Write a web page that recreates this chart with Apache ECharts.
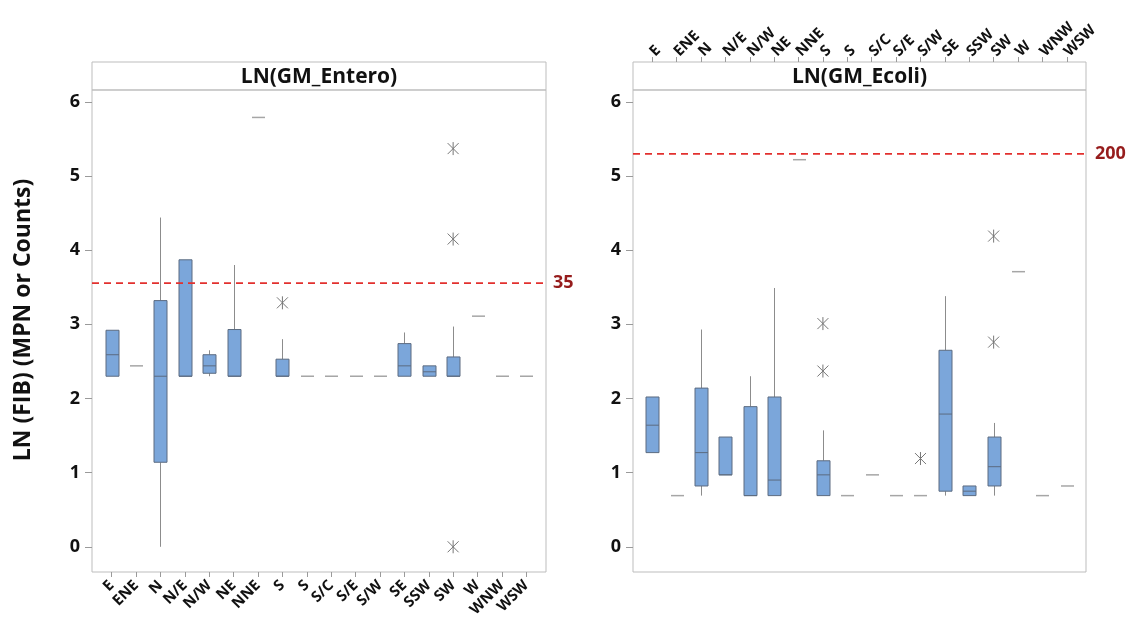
<!DOCTYPE html>
<html>
<head>
<meta charset="utf-8">
<script src="https://cdn.jsdelivr.net/npm/echarts@6/dist/echarts.min.js"></script>
<style>
html,body{margin:0;padding:0;background:#fff;}
#chart{width:1129px;height:632px;}
</style>
</head>
<body>
<div id="chart"></div>
<script>
// ---------------- DATA ----------------
const categories = ['E','ENE','N','N/E','N/W','NE','NNE','S','S','S/C','S/E','S/W','SE','SSW','SW','W','WNW','WSW'];
const yTicks = [0,1,2,3,4,5,6];

// LN(GM_Entero) box statistics per category
const enteroMin = [2.30,2.44,0.00,2.30,2.30,2.30,5.79,2.30,2.30,2.30,2.30,2.30,2.30,2.30,2.30,3.11,2.30,2.30];
const enteroQ1  = [2.30,2.44,1.14,2.30,2.34,2.30,5.79,2.30,2.30,2.30,2.30,2.30,2.30,2.30,2.30,3.11,2.30,2.30];
const enteroMed = [2.59,2.44,2.30,2.30,2.44,2.30,5.79,2.30,2.30,2.30,2.30,2.30,2.44,2.36,2.30,3.11,2.30,2.30];
const enteroQ3  = [2.92,2.44,3.32,3.87,2.59,2.93,5.79,2.53,2.30,2.30,2.30,2.30,2.74,2.44,2.56,3.11,2.30,2.30];
const enteroMax = [2.92,2.44,4.44,3.87,2.65,3.80,5.79,2.80,2.30,2.30,2.30,2.30,2.89,2.44,2.97,3.11,2.30,2.30];
const enteroOutCat = [7,14,14,14];
const enteroOutVal = [3.29,5.37,4.15,0.00];

// LN(GM_Ecoli) box statistics per category
const ecoliMin = [1.27,0.69,0.69,0.97,0.69,0.69,5.22,0.69,0.69,0.97,0.69,0.69,0.69,0.69,0.69,3.71,0.69,0.82];
const ecoliQ1  = [1.27,0.69,0.82,0.97,0.69,0.69,5.22,0.69,0.69,0.97,0.69,0.69,0.75,0.69,0.82,3.71,0.69,0.82];
const ecoliMed = [1.64,0.69,1.27,0.97,0.69,0.90,5.22,0.97,0.69,0.97,0.69,0.69,1.79,0.75,1.08,3.71,0.69,0.82];
const ecoliQ3  = [2.02,0.69,2.14,1.48,1.89,2.02,5.22,1.16,0.69,0.97,0.69,0.69,2.65,0.82,1.48,3.71,0.69,0.82];
const ecoliMax = [2.02,0.69,2.93,1.48,2.30,3.49,5.22,1.57,0.69,0.97,0.69,0.69,3.38,0.82,1.67,3.71,0.69,0.82];
const ecoliOutCat = [7,7,11,14,14];
const ecoliOutVal = [3.01,2.37,1.19,2.76,4.19];

// reference limits (LN of 35 and 200)
const refValues = [3.555, 5.298];
const refLabels = ['35', '200'];
const panelTitles = ['LN(GM_Entero)', 'LN(GM_Ecoli)'];
const yAxisTitle = 'LN (FIB) (MPN or Counts)';

// ---------------- STYLE / LAYOUT ----------------
const FONT = '"Open Sans", Lato, "DejaVu Sans", sans-serif';
const FRAME = '#bdbdbd';
const BOX_FILL = '#7ba6da';
const BOX_EDGE = '#5c6b80';
const WHISK = '#8c8c8c';
const FLAT = '#a6a6a6';
const STAR = '#777777';
const Y_MIN = -0.34, Y_MAX = 6.16;
const STRIP_TOP = 62, STRIP_H = 28, PLOT_TOP = 90, PLOT_H = 482;
const panels = [
  {frameLeft: 92, frameWidth: 454, inset: 7.5, refDist: 7},
  {frameLeft: 633, frameWidth: 453, inset: 7, refDist: 9}
];

function boxItems(mn, q1, md, q3, mx) {
  return categories.map((c, i) => [i, mn[i], q1[i], md[i], q3[i], mx[i]]);
}
function outItems(cat, val) {
  return cat.map((c, i) => [c, val[i]]);
}

function renderBox(params, api) {
  const x = api.value(0);
  const vmin = api.value(1), q1 = api.value(2), med = api.value(3), q3 = api.value(4), vmax = api.value(5);
  const w = 13;
  const pMax = api.coord([x, vmax]), pQ3 = api.coord([x, q3]), pMed = api.coord([x, med]);
  const pQ1 = api.coord([x, q1]), pMin = api.coord([x, vmin]);
  const cx = Math.round(pMed[0]) + 0.5;
  if (vmax === vmin) {
    return {type: 'line', shape: {x1: cx - w / 2, y1: pMed[1], x2: cx + w / 2, y2: pMed[1]},
            style: {stroke: FLAT, lineWidth: 1.5}};
  }
  const children = [];
  if (vmax > q3) children.push({type: 'line', shape: {x1: cx, y1: pMax[1], x2: cx, y2: pQ3[1]}, style: {stroke: WHISK, lineWidth: 1}});
  if (vmin < q1) children.push({type: 'line', shape: {x1: cx, y1: pQ1[1], x2: cx, y2: pMin[1]}, style: {stroke: WHISK, lineWidth: 1}});
  children.push({type: 'rect', shape: {x: cx - w / 2, y: pQ3[1], width: w, height: pQ1[1] - pQ3[1]},
                 style: {fill: BOX_FILL, stroke: BOX_EDGE, lineWidth: 1}});
  children.push({type: 'line', shape: {x1: cx - w / 2, y1: pMed[1], x2: cx + w / 2, y2: pMed[1]},
                 style: {stroke: BOX_EDGE, lineWidth: 1}});
  return {type: 'group', children: children};
}

function renderStar(params, api) {
  const p = api.coord([api.value(0), api.value(1)]);
  const r = 6.5, d = 5.5;
  const s = {stroke: STAR, lineWidth: 1};
  return {type: 'group', children: [
    {type: 'line', shape: {x1: p[0], y1: p[1] - r, x2: p[0], y2: p[1] + r}, style: s},
    {type: 'line', shape: {x1: p[0] - d, y1: p[1] - d, x2: p[0] + d, y2: p[1] + d}, style: s},
    {type: 'line', shape: {x1: p[0] - d, y1: p[1] + d, x2: p[0] + d, y2: p[1] - d}, style: s}
  ]};
}

const grids = [], xAxes = [], yAxes = [], series = [], graphics = [];
const boxData = [boxItems(enteroMin, enteroQ1, enteroMed, enteroQ3, enteroMax),
                 boxItems(ecoliMin, ecoliQ1, ecoliMed, ecoliQ3, ecoliMax)];
const outData = [outItems(enteroOutCat, enteroOutVal), outItems(ecoliOutCat, ecoliOutVal)];

panels.forEach((p, k) => {
  const base = k * 3;
  grids.push({left: p.frameLeft + p.inset, top: PLOT_TOP, width: p.frameWidth - 2 * p.inset, height: PLOT_H, outerBoundsMode: 'none'});
  grids.push({left: p.frameLeft, top: PLOT_TOP, width: p.frameWidth, height: PLOT_H, show: true,
              borderColor: FRAME, borderWidth: 1, backgroundColor: 'transparent', outerBoundsMode: 'none'});
  grids.push({left: p.frameLeft, top: STRIP_TOP, width: p.frameWidth, height: STRIP_H, show: true,
              borderColor: FRAME, borderWidth: 1, backgroundColor: 'transparent', outerBoundsMode: 'none'});

  xAxes.push({
    type: 'category', gridIndex: base, data: categories,
    position: k === 0 ? 'bottom' : 'top',
    offset: k === 0 ? 0 : STRIP_H,
    axisLine: {show: false, onZero: false},
    axisTick: {show: true, alignWithLabel: true, length: 5, lineStyle: {color: '#9a9a9a'}},
    axisLabel: {interval: 0, rotate: k === 0 ? 45 : -45, margin: k === 0 ? 11 : 8, fontSize: 15,
                fontWeight: 'bold', color: '#111', fontFamily: FONT},
    splitLine: {show: false}
  });
  xAxes.push({type: 'value', gridIndex: base + 1, min: 0, max: 1, show: false});
  xAxes.push({type: 'value', gridIndex: base + 2, min: 0, max: 1, show: false});

  yAxes.push({type: 'value', gridIndex: base, min: Y_MIN, max: Y_MAX, show: false});
  yAxes.push({
    type: 'value', gridIndex: base + 1, min: Y_MIN, max: Y_MAX,
    axisLine: {show: false}, splitLine: {show: false},
    axisTick: {show: true, length: 7, lineStyle: {color: '#9a9a9a'}, customValues: yTicks},
    axisLabel: {customValues: yTicks, margin: 12, fontSize: 18, fontWeight: 'bold', color: '#111', fontFamily: FONT}
  });
  yAxes.push({type: 'value', gridIndex: base + 2, min: 0, max: 1, show: false});

  series.push({type: 'custom', xAxisIndex: base, yAxisIndex: base, renderItem: renderBox,
               data: boxData[k], animation: false, silent: true, z: 2});
  series.push({type: 'custom', xAxisIndex: base, yAxisIndex: base, renderItem: renderStar,
               data: outData[k], animation: false, silent: true, z: 2});
  series.push({
    type: 'line', xAxisIndex: base + 1, yAxisIndex: base + 1,
    data: [[0, refValues[k]], [1, refValues[k]]], symbol: 'none', silent: true, animation: false,
    lineStyle: {color: '#e2302e', width: 1.6, type: [7, 5]},
    endLabel: {show: true, formatter: refLabels[k], distance: p.refDist, color: '#961c1c', fontSize: 18,
               fontWeight: 'bold', fontFamily: FONT},
    z: 3
  });

  graphics.push({type: 'text', x: p.frameLeft + p.frameWidth / 2, y: STRIP_TOP + STRIP_H / 2 + 1,
    style: {text: panelTitles[k], textAlign: 'center', textVerticalAlign: 'middle',
            fontSize: 21, fontWeight: 'bold', fontFamily: FONT, fill: '#111'}});
});

graphics.push({type: 'text', x: 23, y: 320, rotation: Math.PI / 2,
  style: {text: yAxisTitle, textAlign: 'center', textVerticalAlign: 'middle',
          fontSize: 23, fontWeight: 'bold', fontFamily: FONT, fill: '#111'}});

const chart = echarts.init(document.getElementById('chart'), null, {renderer: 'canvas'});
chart.setOption({
  backgroundColor: '#ffffff',
  animation: false,
  grid: grids,
  xAxis: xAxes,
  yAxis: yAxes,
  series: series,
  graphic: graphics
});
</script>
</body>
</html>
